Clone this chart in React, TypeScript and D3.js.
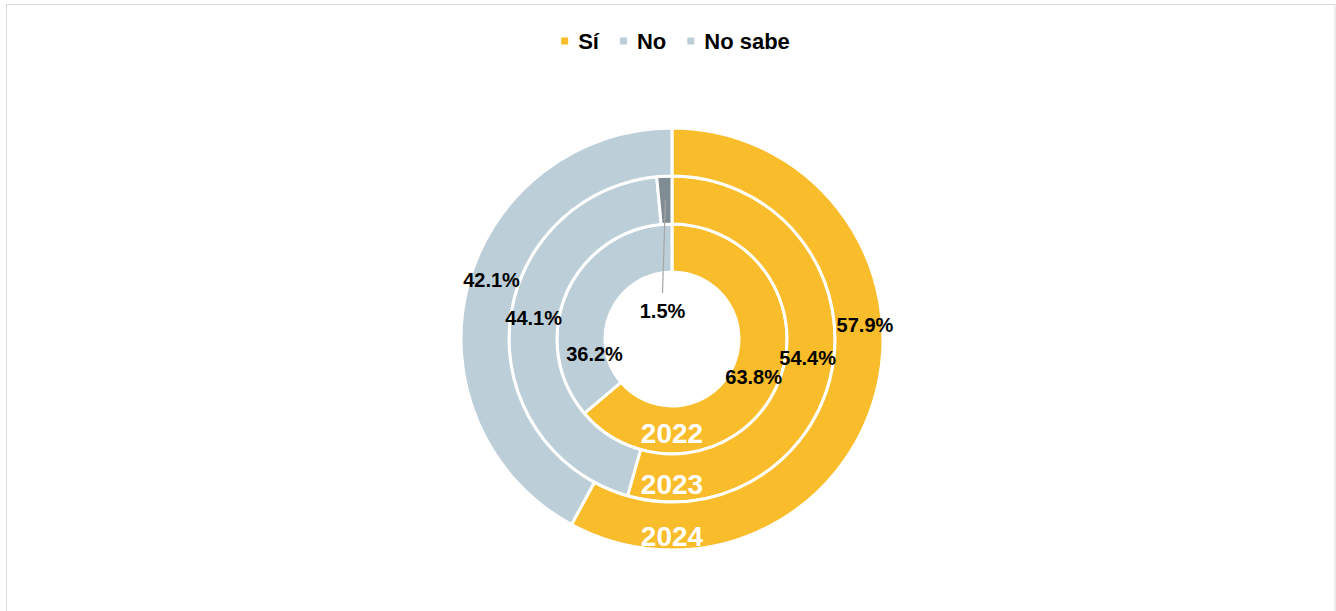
import React from "react";
import * as d3 from "d3";

const categories = ["Sí", "No", "No sabe"];
const years = ["2022", "2023", "2024"];
const values2022 = [63.8, 36.2, 0];
const values2023 = [54.4, 44.1, 1.5];
const values2024 = [57.9, 42.1, 0];
const seriesValues = [values2022, values2023, values2024];
const colors = ["#F9BC2A", "#BCCFD9", "#7F8C93"];
const legendColors = ["#F9BC2A", "#BCCFD9", "#BCCFD9"];

// label placement nudges relative to arc centroid: [deg, radius px] per ring/category
const labelNudge: [number, number][][] = [
  [[0, -1], [-36, -12], [0, 0]],
  [[0, -2], [3.5, 1], [0, 0]],
  [[-18.5, 6.5], [4, 3], [0, 0]],
];

const W = 1336;
const H = 611;
const cx = 672;
const cy = 339;
const outerR = 211;
const holeR = 67;
const font = "'Liberation Sans', Arial, sans-serif";

export default function App() {
  const ringW = (outerR - holeR) / 3;
  const pie = d3
    .pie<number>()
    .sort(null)
    .value((d) => d)
    .startAngle(0)
    .endAngle(2 * Math.PI);

  const legendFont = 22;
  const legendWidths = categories.map((c) => {
    const w: Record<string, number> = { "Sí": 0.945, No: 1.333, "No sabe": 3.89 };
    return (w[c] || c.length * 0.6) * legendFont;
  });
  const marker = 7;
  const markerGap = 10;
  const itemGap = 21;
  const total =
    legendWidths.reduce((a, b) => a + b, 0) +
    categories.length * (marker + markerGap) +
    (categories.length - 1) * itemGap;
  let lx = cx + 3.5 - total / 2;
  const legendItems = categories.map((c, i) => {
    const x = lx;
    lx += marker + markerGap + legendWidths[i] + itemGap;
    return { c, x, color: legendColors[i] };
  });

  const rings = seriesValues.map((vals, ri) => {
    const inner = holeR + ri * ringW;
    const outer = inner + ringW;
    const arc = d3.arc<d3.PieArcDatum<number>>().innerRadius(inner).outerRadius(outer);
    const arcs = pie(vals);
    return { ri, inner, outer, arc, arcs };
  });

  return (
    <svg
      width={W}
      height={H}
      style={{ position: "absolute", left: 0, top: 0 }}
      fontFamily={font}
    >
      <rect x={0} y={0} width={W} height={H} fill="#fff" />
      <rect x={6.5} y={4.5} width={1328.5} height={640} fill="none" stroke="#D9D9D9" strokeWidth={1} />
      {legendItems.map((it) => (
        <g key={it.c}>
          <rect x={it.x} y={41 - marker / 2} width={marker} height={marker} fill={it.color} />
          <text
            x={it.x + marker + markerGap}
            y={48.5}
            fontSize={legendFont}
            fontWeight="bold"
            fill="#000"
          >
            {it.c}
          </text>
        </g>
      ))}
      <g transform={`translate(${cx},${cy})`}>
        {rings.map((r) =>
          r.arcs.map((a, i) =>
            a.value > 0 ? (
              <path
                key={`${r.ri}-${i}`}
                d={r.arc(a) || ""}
                fill={colors[i]}
                stroke="#fff"
                strokeWidth={3}
                strokeLinejoin="round"
              />
            ) : null
          )
        )}
        {rings.map((r) => {
          const frac = 0.57 + 0.07 * r.ri;
          const yr = r.inner + frac * ringW;
          return (
            <text
              key={`y${r.ri}`}
              x={0}
              y={yr}
              textAnchor="middle"
              dominantBaseline="central"
              fontSize={28}
              fontWeight="bold"
              fill="#fff"
            >
              {years[r.ri]}
            </text>
          );
        })}
        {rings.map((r) =>
          r.arcs.map((a, i) => {
            if (a.value <= 0) return null;
            const mid = (a.startAngle + a.endAngle) / 2;
            const midR = (r.inner + r.outer) / 2;
            if (i === 2) {
              // small slice: leader line into the hole
              const sx = midR * Math.sin(mid);
              const sy = -midR * Math.cos(mid);
              const ly = -holeR + 21;
              const lxp = -9.5;
              return (
                <g key={`l${r.ri}-${i}`}>
                  <line x1={sx} y1={sy} x2={lxp} y2={ly} stroke="#A6A6A6" strokeWidth={1.2} />
                  <text
                    x={lxp}
                    y={ly + 17.5}
                    textAnchor="middle"
                    dominantBaseline="central"
                    fontSize={20}
                    fontWeight="bold"
                    fill="#000"
                  >
                    {d3.format(".1f")(a.value)}%
                  </text>
                </g>
              );
            }
            const [dAng, dR] = labelNudge[r.ri][i];
            const ang = mid + (dAng * Math.PI) / 180;
            const rr = midR + dR;
            return (
              <text
                key={`l${r.ri}-${i}`}
                x={rr * Math.sin(ang)}
                y={-rr * Math.cos(ang)}
                textAnchor="middle"
                dominantBaseline="central"
                fontSize={20}
                fontWeight="bold"
                fill="#000"
              >
                {d3.format(".1f")(a.value)}%
              </text>
            );
          })
        )}
      </g>
    </svg>
  );
}
